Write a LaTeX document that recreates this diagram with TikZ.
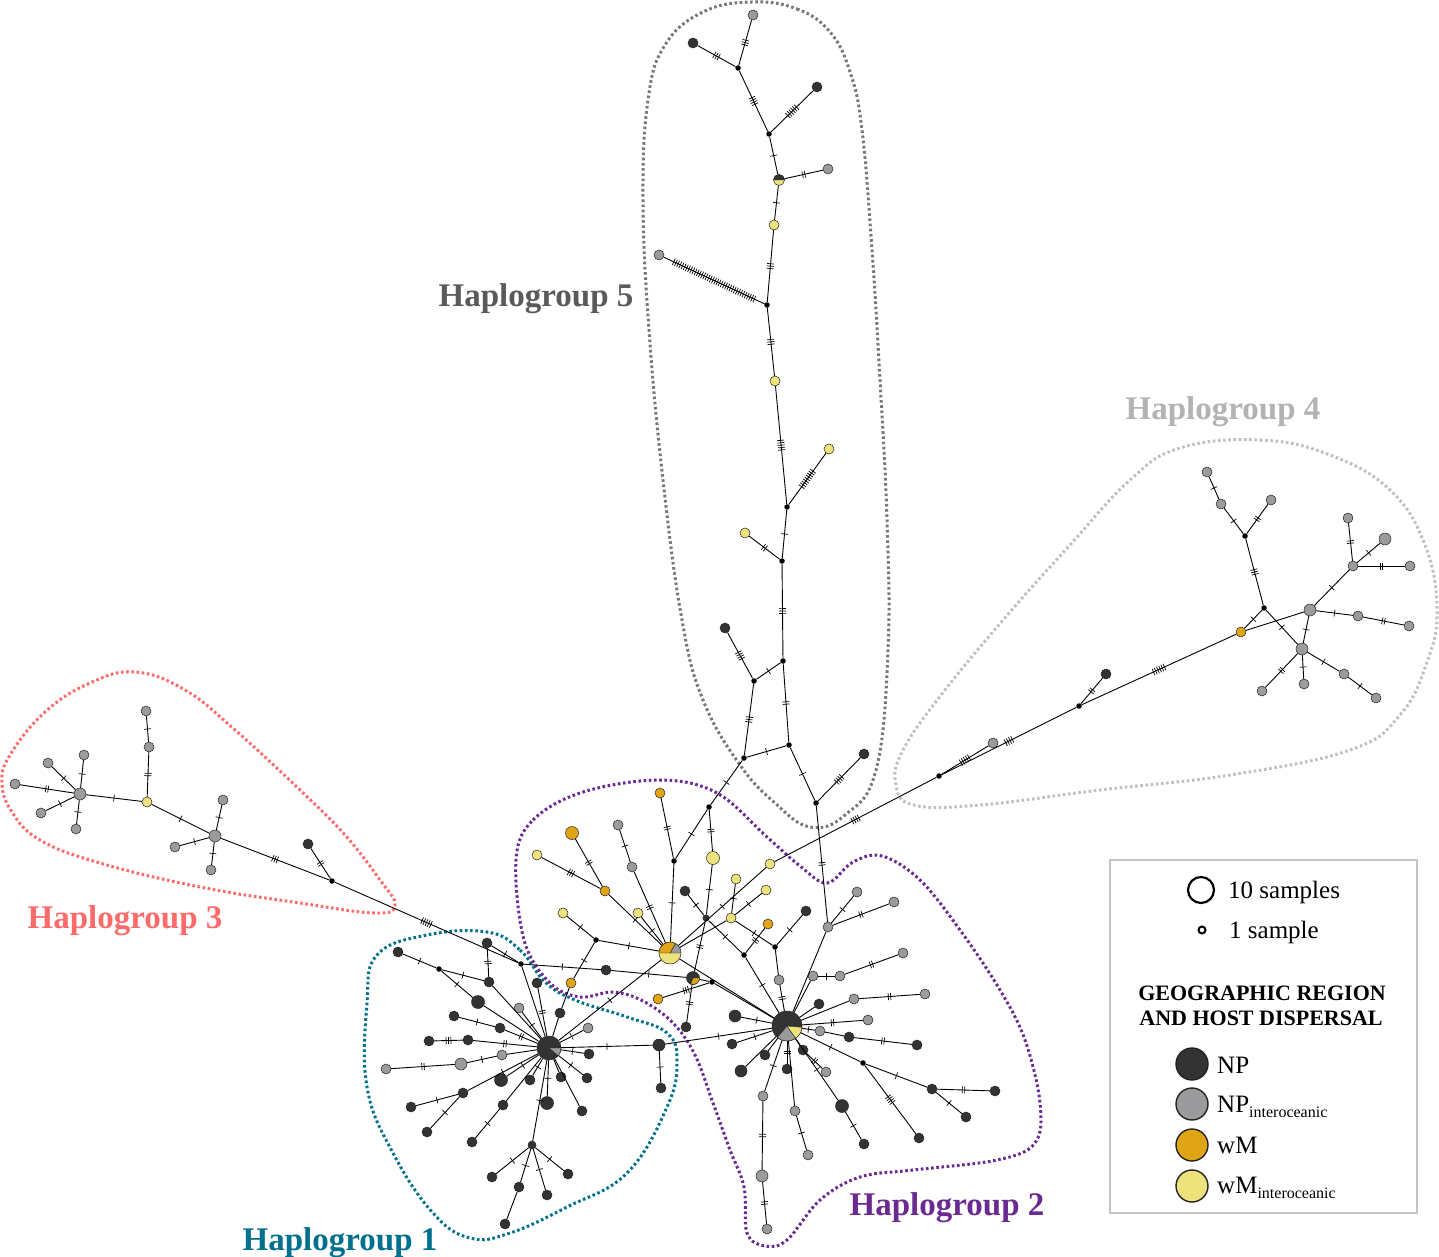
\documentclass[tikz,border=0pt]{standalone}
\usepackage{fontspec}
\setmainfont{Liberation Serif}
\usetikzlibrary{decorations.markings}
\definecolor{npc}{HTML}{333333}
\definecolor{ngc}{HTML}{9B9B9D}
\definecolor{wmc}{HTML}{E0A514}
\definecolor{wyc}{HTML}{EDE27B}
\definecolor{outl}{HTML}{222222}
\definecolor{hfive}{HTML}{777777}
\definecolor{hfivet}{HTML}{5A5A5A}
\definecolor{hfour}{HTML}{C0C0C0}
\definecolor{hfourt}{HTML}{B3B3B3}
\definecolor{hthree}{HTML}{FF6B6B}
\definecolor{hone}{HTML}{00708F}
\definecolor{htwo}{HTML}{6B2A92}
\definecolor{lgbox}{HTML}{C4C4C4}
\newcommand\haplab{\fontsize{33}{36}\selectfont\bfseries}
\newcommand\lgfont{\fontsize{25}{28}\selectfont}
\newcommand\Edg[3]{\ifnum#3=0\relax\draw[edge] (#1)--(#2);\else\draw[edge,tk=#3] (#1)--(#2);\fi}
\newcommand\Sect[5]{\filldraw[fill=#2,draw=outl,line width=.4pt] (#1.center) -- ++(#3:#5) arc[start angle=#3,end angle=#4,radius=#5] -- cycle;}
\tikzset{
 nd/.style={circle,draw=outl,line width=.5pt,inner sep=0pt,minimum size=10pt},
 np/.style={nd,fill=npc},
 ng/.style={nd,fill=ngc},
 wm/.style={nd,fill=wmc},
 wy/.style={nd,fill=wyc},
 mv/.style={circle,fill=black,inner sep=0pt,minimum size=5.5pt},
 edge/.style={line width=.9pt,black},
 tk/.style={postaction={decorate,decoration={markings,mark=at position .5 with {\foreach \i in {1,...,#1}{\draw[line width=.7pt,black] ({(\i-(#1+1)/2)*2.4pt},-3.5pt)--({(\i-(#1+1)/2)*2.4pt},3.5pt);}}}}},
 hull/.style={line width=3pt,dash pattern=on 2.6pt off 2.6pt},
 hap/.style={font=\haplab,anchor=base,inner sep=0pt},
 lg/.style={font=\lgfont,anchor=base west,inner sep=0pt},
}
\begin{document}
\begin{tikzpicture}[x=1pt,y=-1pt]
\useasboundingbox[fill=white] (0,0) rectangle (1439,1257);
% ---------------- hulls
\draw[hull,hfive] plot[smooth cycle,tension=.7] coordinates {(752,2) (797,9) (830,32) (850,72) (862,130) (872,250) (880,380) (887,520) (888,650) (876,770) (845,815) (810,827) (775,803) (740,765) (703,700) (682,620) (663,480) (649,330) (643,200) (648,100) (665,45) (703,12)};
\draw[hull,hfour] plot[smooth cycle,tension=.7] coordinates {(1180,448) (1260,440) (1330,455) (1390,490) (1425,545) (1437,610) (1427,662) (1400,715) (1350,750) (1230,775) (1100,790) (980,805) (914,805) (896,785) (903,750) (945,690) (1010,612) (1070,545) (1130,480)};
\draw[hull,hthree] plot[smooth cycle,tension=.7] coordinates {(135,672) (185,690) (235,730) (300,790) (345,835) (380,880) (395,905) (375,913) (300,903) (200,887) (100,863) (40,840) (12,812) (2,783) (10,755) (45,712) (90,683)};
\draw[hull,hone] plot[smooth cycle,tension=.7] coordinates {(487,932) (520,950) (545,982) (575,1000) (627,1017) (667,1033) (677,1062) (667,1107) (627,1173) (567,1207) (510,1233) (470,1238) (433,1213) (393,1153) (367,1087) (367,1003) (377,955) (427,935)};
\draw[hull,htwo] plot[smooth cycle,tension=.6] coordinates {(516,860) (533,820) (583,792) (660,780) (717,793) (767,837) (800,866) (827,883) (853,862) (882,856) (920,880) (960,930) (1000,990) (1025,1040) (1040,1103) (1035,1143) (997,1160) (913,1170) (860,1177) (820,1200) (787,1240) (765,1246) (747,1233) (744,1187) (730,1150) (713,1103) (695,1055) (673,1023) (643,1001) (613,992) (580,997) (550,983) (524,940)};
% ---------------- Haplogroup 5
\node[ng] (a1) at (753,15) {};
\node[np] (a2) at (693,43) {};
\node[mv] (am1) at (738,68) {};
\node[mv] (am2) at (769,134) {};
\node[np] (a3) at (817,87) {};
\node[nd,fill=wyc,minimum size=11pt] (a4) at (779,180) {};
\node[ng] (a5) at (828,169) {};
\node[wy] (a6) at (774,225) {};
\node[ng] (a7) at (659,255) {};
\node[mv] (am3) at (767,305) {};
\node[wy] (a8) at (775,381) {};
\node[mv] (am4) at (787,507) {};
\node[wy] (a9) at (829,449) {};
\node[mv] (am5) at (782,561) {};
\node[wy] (a10) at (745,533) {};
\node[mv] (am6) at (783,661) {};
\node[np] (a11) at (725,628) {};
\node[mv] (am7) at (754,681) {};
\node[mv] (am8) at (744,758) {};
\node[mv] (am9) at (789,745) {};
\node[mv] (am10) at (816,803) {};
\node[np] (a12) at (864,754) {};
% ---------------- Haplogroup 4
\node[ng] (d1) at (1207,472) {};
\node[ng] (d2) at (1221,504) {};
\node[ng] (d3) at (1271,500) {};
\node[mv] (dm1) at (1245,536) {};
\node[ng] (d4) at (1348,518) {};
\node[ng,minimum size=12pt] (d5) at (1385,539) {};
\node[ng] (d6) at (1353,566) {};
\node[ng] (d7) at (1410,566) {};
\node[mv] (dm2) at (1264,608) {};
\node[ng,minimum size=12pt] (d8) at (1310,610) {};
\node[wm] (d9) at (1241,632) {};
\node[ng] (d10) at (1358,616) {};
\node[ng] (d11) at (1409,626) {};
\node[ng,minimum size=12pt] (d12) at (1302,649) {};
\node[np] (d13) at (1106,674) {};
\node[mv] (dm3) at (1079,706) {};
\node[ng] (d14) at (1262,691) {};
\node[ng] (d15) at (1304,684) {};
\node[ng] (d16) at (1344,674) {};
\node[ng] (d17) at (1376,698) {};
\node[ng] (d18) at (993,743) {};
\node[mv] (dm4) at (939,776) {};
% ---------------- Haplogroup 3
\node[ng] (e1) at (146,711) {};
\node[ng] (e2) at (149,747) {};
\node[ng] (e3) at (84,755) {};
\node[ng] (e4) at (48,763) {};
\node[ng] (e5) at (15,784) {};
\node[ng,minimum size=12pt] (e6) at (80,794) {};
\node[wy] (e7) at (147,802) {};
\node[ng] (e8) at (41,813) {};
\node[ng] (e9) at (76,829) {};
\node[ng] (e10) at (223,800) {};
\node[ng,minimum size=12pt] (e11) at (215,836) {};
\node[ng] (e12) at (175,847) {};
\node[ng] (e13) at (211,870) {};
\node[np] (e14) at (308,844) {};
\node[mv] (em1) at (332,881) {};
% ---------------- central / Haplogroup 2
\node[wm] (c1) at (660,793) {};
\node[ng] (c2) at (618,825) {};
\node[wm,minimum size=13pt] (c3) at (572,833) {};
\node[wy] (c4) at (537,855) {};
\node[mv] (cm1) at (709,807) {};
\node[mv] (cm2) at (674,861) {};
\node[wy,minimum size=13pt] (c5) at (713,858) {};
\node[ng] (c6) at (632,867) {};
\node[wm] (c7) at (605,891) {};
\node[wy] (c8) at (770,864) {};
\node[wy] (c9) at (736,879) {};
\node[wy] (c10) at (766,890) {};
\node[np] (c11) at (685,891) {};
\node[wy] (c12) at (563,913) {};
\node[wy] (c13) at (638,913) {};
\node[mv,minimum size=7pt,fill=npc] (cm3) at (706,918) {};
\node[wy] (c14) at (731,918) {};
\node[wm] (c15) at (768,924) {};
\node[np] (c16) at (806,911) {};
\node[ng] (c17) at (828,927) {};
\node[ng] (c18) at (857,892) {};
\node[ng] (c19) at (894,902) {};
\node[mv] (cm4) at (596,940) {};
\node[nd,fill=wyc,minimum size=22pt] (P2) at (670,953) {};
\node[mv] (cm5) at (744,955) {};
\node[mv] (cm6) at (775,947) {};
\node[ng] (c20) at (903,953) {};
\node[mv] (cm7) at (521,964) {};
\node[np] (c21) at (606,970) {};
\node[nd,fill=npc,minimum size=13pt] (P3) at (693,978) {};
\node[mv] (cm8) at (712,982) {};
\node[wm] (c22) at (571,983) {};
\node[ng] (c23) at (779,980) {};
\node[ng] (c24) at (813,976) {};
\node[ng] (c25) at (840,976) {};
\node[wm] (c26) at (658,999) {};
\node[ng] (c27) at (854,999) {};
\node[np] (c28) at (819,1004) {};
\node[ng] (c29) at (925,994) {};
\node[np,minimum size=12pt] (c30) at (735,1016) {};
\node[np] (c31) at (560,1013) {};
\node[np] (c32) at (686,1027) {};
\node[nd,fill=npc,minimum size=30pt] (hubB) at (787,1026) {};
\node[ng] (c33) at (868,1020) {};
\node[ng] (c34) at (820,1031) {};
\node[np] (c35) at (849,1037) {};
\node[np] (c36) at (917,1045) {};
\node[np,minimum size=12pt] (c37) at (659,1045) {};
\node[np] (c38) at (732,1044) {};
\node[np] (c39) at (765,1055) {};
\node[np] (c40) at (803,1050) {};
\node[mv] (cm9) at (863,1063) {};
\node[np,minimum size=12pt] (c41) at (741,1071) {};
\node[np] (c42) at (787,1069) {};
\node[ng] (c43) at (826,1072) {};
\node[np] (c44) at (932,1089) {};
\node[np] (c45) at (995,1091) {};
\node[ng] (c46) at (763,1096) {};
\node[ng] (c47) at (795,1111) {};
\node[np,minimum size=13pt] (c48) at (842,1106) {};
\node[np] (c49) at (966,1117) {};
\node[np] (c50) at (919,1138) {};
\node[np] (c51) at (864,1144) {};
\node[ng] (c52) at (808,1155) {};
\node[ng,minimum size=12pt] (c53) at (762,1176) {};
\node[ng] (c54) at (767,1229) {};
\node[np] (c55) at (661,1088) {};
% ---------------- Haplogroup 1
\node[nd,fill=npc,minimum size=24pt] (hubA) at (549,1048) {};
\node[np] (b1) at (398,952) {};
\node[mv] (bm1) at (439,969) {};
\node[np] (b2) at (487,943) {};
\node[np] (b3) at (489,982) {};
\node[np] (b4) at (537,983) {};
\node[np,minimum size=13pt] (b5) at (478,1002) {};
\node[ng] (b6) at (519,1008) {};
\node[np] (b7) at (454,1016) {};
\node[ng] (b8) at (588,1028) {};
\node[np] (b9) at (500,1028) {};
\node[np] (b10) at (429,1041) {};
\node[np] (b11) at (468,1040) {};
\node[ng] (b12) at (502,1055) {};
\node[np] (b13) at (589,1054) {};
\node[ng,minimum size=12pt] (b14) at (461,1064) {};
\node[ng] (b15) at (386,1069) {};
\node[np,minimum size=13pt] (b16) at (501,1080) {};
\node[np] (b17) at (530,1080) {};
\node[np] (b18) at (561,1077) {};
\node[np] (b19) at (587,1078) {};
\node[np] (b20) at (463,1093) {};
\node[np] (b21) at (411,1107) {};
\node[np,minimum size=13pt] (b22) at (547,1103) {};
\node[np] (b23) at (503,1105) {};
\node[np] (b24) at (582,1111) {};
\node[np] (b25) at (427,1132) {};
\node[np] (b26) at (472,1142) {};
\node[np,minimum size=8pt] (bm2) at (532,1145) {};
\node[np] (b27) at (492,1177) {};
\node[np] (b28) at (519,1187) {};
\node[np] (b29) at (568,1174) {};
\node[np] (b30) at (547,1195) {};
\node[np] (b31) at (505,1224) {};
% ---------------- pies
\Sect{a4}{npc}{0}{180}{5.5pt}
\Sect{P2}{ngc}{0}{60}{11pt}
\Sect{P2}{wmc}{60}{180}{11pt}
\Sect{P3}{wmc}{-110}{0}{6.5pt}
\Sect{hubB}{ngc}{-130}{-55}{15pt}
\Sect{hubB}{wyc}{-55}{-5}{15pt}
\Sect{hubA}{ngc}{-40}{0}{12pt}
% ---------------- edges H5
\Edg{a1}{am1}{3}\Edg{a2}{am1}{3}\Edg{am1}{am2}{4}\Edg{am2}{a3}{6}
\Edg{am2}{a4}{1}\Edg{a4}{a5}{2}\Edg{a4}{a6}{1}\Edg{a6}{am3}{3}
\Edg{a7}{am3}{38}\Edg{am3}{a8}{3}\Edg{a8}{am4}{5}\Edg{am4}{a9}{9}
\Edg{am4}{am5}{1}\Edg{a10}{am5}{2}\Edg{am5}{am6}{3}\Edg{a11}{am7}{4}
\Edg{am7}{am6}{1}\Edg{am7}{am8}{3}\Edg{am6}{am9}{2}\Edg{am8}{am9}{1}
\Edg{am9}{am10}{1}\Edg{am10}{a12}{4}\Edg{am8}{cm1}{1}\Edg{am10}{c17}{2}
% ---------------- edges H4
\Edg{d1}{d2}{1}\Edg{d2}{dm1}{1}\Edg{d3}{dm1}{2}\Edg{dm1}{dm2}{3}
\Edg{dm2}{d9}{1}\Edg{dm2}{d12}{1}\Edg{d9}{d8}{0}\Edg{d8}{d6}{1}
\Edg{d6}{d4}{2}\Edg{d6}{d5}{1}\Edg{d6}{d7}{2}\Edg{d8}{d10}{1}
\Edg{d10}{d11}{2}\Edg{d8}{d12}{1}\Edg{d12}{d14}{2}\Edg{d12}{d15}{1}
\Edg{d12}{d16}{1}\Edg{d16}{d17}{1}\Edg{d9}{dm3}{6}\Edg{d13}{dm3}{2}
\Edg{dm3}{dm4}{4}\Edg{d18}{dm4}{5}\Edg{dm4}{c8}{4}
% ---------------- edges H3
\Edg{e1}{e2}{1}\Edg{e2}{e7}{2}\Edg{e3}{e6}{1}\Edg{e4}{e6}{1}
\Edg{e5}{e6}{2}\Edg{e8}{e6}{1}\Edg{e9}{e6}{1}\Edg{e6}{e7}{1}
\Edg{e7}{e11}{1}\Edg{e11}{e10}{1}\Edg{e11}{e12}{1}\Edg{e11}{e13}{1}
\Edg{e11}{em1}{3}\Edg{e14}{em1}{2}\Edg{em1}{cm7}{5}
% ---------------- edges central / H2
\Edg{c1}{cm2}{2}\Edg{c3}{c7}{2}\Edg{c4}{c7}{3}\Edg{c7}{P2}{1}
\Edg{c2}{c6}{1}\Edg{c6}{P2}{2}\Edg{c13}{P2}{1}\Edg{cm2}{P2}{1}
\Edg{cm2}{cm1}{1}\Edg{cm1}{c5}{2}\Edg{c5}{cm3}{1}\Edg{c11}{cm3}{1}
\Edg{cm3}{P3}{2}\Edg{cm3}{cm5}{1}\Edg{P2}{c8}{1}\Edg{P2}{c14}{0}
\Edg{c14}{c9}{1}\Edg{c14}{c10}{1}\Edg{c14}{cm6}{1}\Edg{cm5}{c15}{2}
\Edg{cm5}{hubB}{1}\Edg{cm6}{c16}{1}\Edg{cm6}{c23}{0}\Edg{c23}{hubB}{2}
\Edg{c17}{hubB}{0}\Edg{c17}{c18}{1}\Edg{c17}{c19}{2}
\Edg{cm4}{c12}{1}\Edg{cm4}{P2}{1}\Edg{cm4}{c22}{1}\Edg{c22}{c31}{0}
\Edg{cm7}{c21}{1}\Edg{c21}{P3}{1}\Edg{P3}{cm8}{0}\Edg{P3}{c32}{2}
\Edg{cm8}{hubB}{0}\Edg{c26}{cm8}{3}\Edg{P2}{hubB}{0}\Edg{P2}{hubA}{1}
\Edg{hubB}{c24}{0}\Edg{c24}{c25}{1}\Edg{c25}{c20}{2}\Edg{hubB}{c28}{0}
\Edg{hubB}{c27}{0}\Edg{c27}{c29}{2}\Edg{hubB}{c33}{2}\Edg{hubB}{c34}{1}
\Edg{c34}{c35}{0}\Edg{c35}{c36}{2}\Edg{hubB}{cm9}{1}\Edg{cm9}{c44}{1}
\Edg{c44}{c45}{2}\Edg{c44}{c49}{1}\Edg{cm9}{c50}{4}\Edg{hubB}{c30}{1}
\Edg{hubB}{c38}{1}\Edg{hubB}{c39}{0}\Edg{hubB}{c41}{0}\Edg{hubB}{c46}{1}
\Edg{c46}{c53}{2}\Edg{c53}{c54}{2}\Edg{hubB}{c42}{2}\Edg{hubB}{c47}{0}
\Edg{c47}{c52}{1}\Edg{hubB}{c40}{0}\Edg{c40}{c43}{2}\Edg{hubB}{c48}{1}
\Edg{c48}{c51}{1}\Edg{hubB}{c37}{1}\Edg{c37}{hubA}{1}\Edg{c37}{c55}{1}
% ---------------- edges H1
\Edg{b1}{bm1}{1}\Edg{bm1}{b3}{1}\Edg{bm1}{b5}{1}\Edg{b5}{hubA}{0}
\Edg{b2}{b3}{2}\Edg{b3}{hubA}{0}\Edg{b2}{cm7}{1}\Edg{cm7}{hubA}{0}
\Edg{b4}{hubA}{2}\Edg{b6}{hubA}{1}\Edg{c31}{hubA}{0}\Edg{b8}{hubA}{1}
\Edg{b7}{b9}{1}\Edg{b9}{hubA}{2}\Edg{b10}{b11}{3}\Edg{b11}{hubA}{2}
\Edg{b15}{b14}{2}\Edg{b14}{b12}{1}\Edg{b12}{hubA}{0}\Edg{b13}{hubA}{1}
\Edg{b16}{hubA}{1}\Edg{b20}{hubA}{1}\Edg{b20}{b21}{1}\Edg{b20}{b25}{1}
\Edg{b17}{hubA}{1}\Edg{b18}{hubA}{0}\Edg{b19}{hubA}{1}\Edg{b22}{hubA}{1}
\Edg{b23}{hubA}{0}\Edg{b23}{b26}{1}\Edg{b24}{hubA}{0}\Edg{hubA}{bm2}{1}
\Edg{bm2}{b27}{1}\Edg{bm2}{b28}{1}\Edg{bm2}{b29}{1}\Edg{bm2}{b30}{1}
\Edg{b28}{b31}{0}
% ---------------- labels
\node[hap,text=hfivet] (l5) at (536,306) {Haplogroup 5};
\node[hap,text=hfourt] (l4) at (1223,419) {Haplogroup 4};
\node[hap,text=hthree] (l3) at (125,928) {Haplogroup 3};
\node[hap,text=hone] (l1) at (340,1250) {Haplogroup 1};
\node[hap,text=htwo] (l2) at (947,1215) {Haplogroup 2};
% ---------------- legend
\draw[lgbox,line width=1.6pt] (1110,860) rectangle (1417,1213);
\draw[black,line width=2.2pt] (1201,890) circle[radius=13pt];
\draw[black,line width=2pt] (1202,930) circle[radius=3.5pt];
\node[lg] (t10) at (1228,898) {10 samples};
\node[lg] (t1) at (1229,938) {1 sample};
\node[font=\fontsize{22}{24}\selectfont\bfseries,anchor=base,inner sep=0pt] (g1) at (1262,1000) {GEOGRAPHIC REGION};
\node[font=\fontsize{22}{24}\selectfont\bfseries,anchor=base,inner sep=0pt] (g2) at (1261,1025) {AND HOST DISPERSAL};
\node[circle,draw=outl,line width=1.4pt,fill=npc,minimum size=32pt,inner sep=0pt] (k1) at (1192,1064) {};
\node[circle,draw=outl,line width=1.4pt,fill=ngc,minimum size=32pt,inner sep=0pt] (k2) at (1192,1104) {};
\node[circle,draw=outl,line width=1.4pt,fill=wmc,minimum size=32pt,inner sep=0pt] (k3) at (1192,1145) {};
\node[circle,draw=outl,line width=1.4pt,fill=wyc,minimum size=32pt,inner sep=0pt] (k4) at (1192,1186) {};
\node[lg] (n1) at (1217,1073) {NP};
\node[lg] (n2) at (1217,1112) {NP\raisebox{-5pt}{\fontsize{16}{16}\selectfont interoceanic}};
\node[lg] (n3) at (1217,1153) {wM};
\node[lg] (n4) at (1217,1193) {wM\raisebox{-5pt}{\fontsize{16}{16}\selectfont interoceanic}};
\end{tikzpicture}
\end{document}
